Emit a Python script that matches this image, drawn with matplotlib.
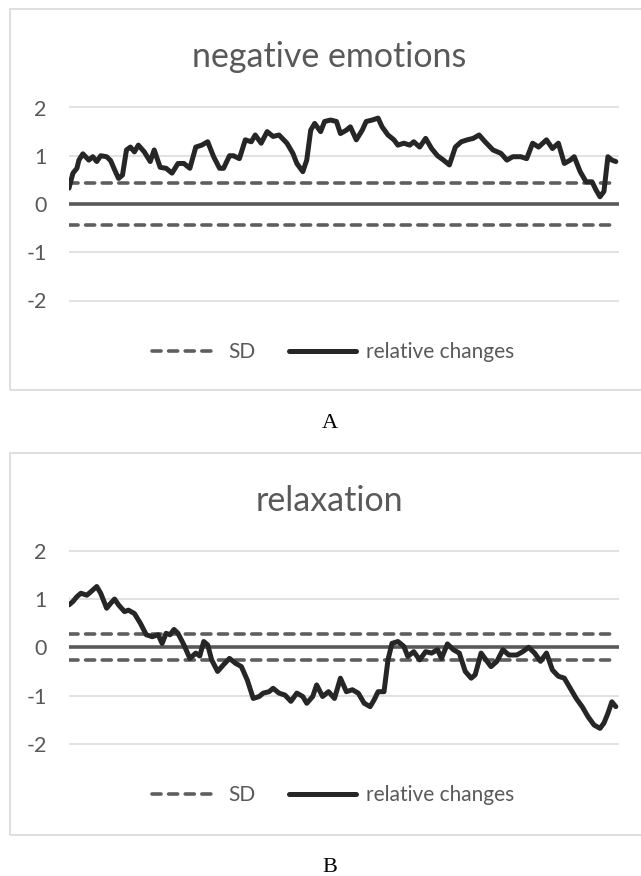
import matplotlib
matplotlib.use("Agg")
import matplotlib.pyplot as plt
from matplotlib.lines import Line2D
from matplotlib.patches import Rectangle

# ---------------- data ----------------
titles = ["negative emotions", "relaxation"]
panel_labels = ["A", "B"]
yticks = [-2, -1, 0, 1, 2]
sd_a = 0.44
sd_b = 0.27

time_a = [0, 10, 20, 25, 35, 50, 60, 70, 80, 95, 105, 115, 125, 135, 145, 155, 165,
          175, 190, 205, 215, 230, 245, 260, 275, 290, 305, 320, 335, 350, 365, 380,
          390, 405, 415, 430, 445, 460, 470, 485, 500, 515, 530, 550, 565, 575, 590,
          600, 610, 620, 635, 645, 660, 675, 685, 700, 710, 725, 740, 750, 765, 780,
          790, 805, 820, 830, 845, 860, 870, 885, 900, 915, 930, 945, 960, 975, 990,
          1005, 1020, 1035, 1050, 1070, 1090, 1105, 1120, 1140, 1155, 1170, 1185,
          1205, 1220, 1235, 1250, 1265, 1275, 1290, 1305, 1320, 1330, 1340, 1350,
          1360, 1370, 1380]
vals_a = [0.33, 0.64, 0.74, 0.91, 1.04, 0.91, 0.98, 0.88, 1.0, 0.98, 0.9, 0.71, 0.53,
          0.6, 1.12, 1.18, 1.08, 1.22, 1.08, 0.88, 1.12, 0.76, 0.74, 0.64, 0.84, 0.84,
          0.74, 1.18, 1.22, 1.29, 0.98, 0.74, 0.74, 1.0, 1.0, 0.94, 1.33, 1.29, 1.43,
          1.26, 1.5, 1.4, 1.43, 1.26, 1.05, 0.84, 0.67, 0.91, 1.53, 1.67, 1.5, 1.71,
          1.74, 1.71, 1.46, 1.53, 1.6, 1.33, 1.53, 1.71, 1.74, 1.78, 1.6, 1.43, 1.33,
          1.22, 1.26, 1.22, 1.29, 1.18, 1.36, 1.15, 1.0, 0.91, 0.81, 1.18, 1.29, 1.33,
          1.36, 1.43, 1.29, 1.12, 1.05, 0.91, 0.98, 0.98, 0.94, 1.26, 1.18, 1.33, 1.15,
          1.26, 0.84, 0.91, 0.98, 0.67, 0.46, 0.46, 0.29, 0.15, 0.26, 0.98, 0.91, 0.88]

time_b = [0, 10, 20, 30, 45, 55, 70, 80, 95, 105, 115, 125, 140, 150, 165, 180, 195,
          210, 225, 235, 245, 255, 265, 275, 290, 305, 320, 330, 340, 350, 360, 375,
          390, 405, 420, 435, 450, 465, 480, 490, 505, 515, 530, 545, 560, 575, 590,
          600, 615, 625, 640, 655, 670, 685, 700, 715, 730, 745, 760, 770, 780, 795,
          805, 815, 830, 845, 855, 870, 885, 900, 915, 930, 940, 955, 970, 985, 1000,
          1015, 1025, 1040, 1055, 1065, 1080, 1095, 1110, 1130, 1145, 1160, 1175, 1190,
          1205, 1220, 1235, 1250, 1265, 1280, 1295, 1310, 1325, 1340, 1350, 1360,
          1370, 1380]
vals_b = [0.88, 0.95, 1.05, 1.12, 1.08, 1.15, 1.26, 1.12, 0.81, 0.91, 1.0, 0.88, 0.74,
          0.77, 0.7, 0.5, 0.26, 0.22, 0.26, 0.08, 0.29, 0.26, 0.37, 0.29, 0.05, -0.23,
          -0.12, -0.18, 0.12, 0.05, -0.26, -0.5, -0.36, -0.23, -0.33, -0.4, -0.68,
          -1.06, -1.02, -0.95, -0.92, -0.85, -0.95, -0.99, -1.12, -0.95, -1.02, -1.16,
          -1.02, -0.78, -1.02, -0.92, -1.06, -0.64, -0.92, -0.88, -0.95, -1.16, -1.23,
          -1.09, -0.92, -0.92, -0.26, 0.08, 0.12, 0.02, -0.19, -0.09, -0.26, -0.09,
          -0.12, -0.05, -0.23, 0.07, -0.05, -0.12, -0.5, -0.64, -0.57, -0.12, -0.29,
          -0.4, -0.29, -0.05, -0.16, -0.16, -0.09, 0.0, -0.12, -0.29, -0.12, -0.47,
          -0.6, -0.64, -0.85, -1.06, -1.23, -1.44, -1.61, -1.68, -1.57, -1.37, -1.13,
          -1.23]

series = [(time_a, vals_a, sd_a), (time_b, vals_b, sd_b)]

# ---------------- style / layout ----------------
W, H = 641, 876
DPI = 100
GRAY = "#595959"
SD_GRAY = "#5e5e5e"
GRID = "#d9d9d9"
LINE = "#262626"
FONT = "Lato"

fig = plt.figure(figsize=(W / DPI, H / DPI), dpi=DPI)
fig.patch.set_facecolor("white")

px_per_unit = 48.25
zero_px = [204.0, 647.3]       # pixel row of y=0 in each panel
frame_px = [(9, 390), (453, 835)]
title_px = [57, 501]
legend_px = [352, 795]
label_px = [423, 867]
x_left, x_right = 69, 619
ylo, yhi = -2.5, 2.2

SD_LW = 2.6
SD_DASH = (2.5, 2.1)
MAIN_LW = 3.6

for i, (t, v, sd) in enumerate(series):
    top_px = zero_px[i] - px_per_unit * yhi
    bot_px = zero_px[i] - px_per_unit * ylo
    ax = fig.add_axes([x_left / W, 1 - bot_px / H, (x_right - x_left) / W,
                       (bot_px - top_px) / H])
    ax.set_facecolor("none")
    ax.set_ylim(ylo, yhi)
    ax.set_xlim(t[0], t[-1] + 8)
    for s in ax.spines.values():
        s.set_visible(False)
    ax.set_xticks([])
    ax.set_yticks(yticks)
    ax.set_yticklabels([str(k) for k in yticks])
    ax.tick_params(axis="y", length=0, pad=16, labelsize=15.5, labelcolor=GRAY)
    for lab in ax.get_yticklabels():
        lab.set_fontfamily(FONT)
    for k in yticks:
        if k != 0:
            ax.axhline(k, color=GRID, lw=1.1, zorder=1)
    ax.axhline(0, color=GRAY, lw=2.6, zorder=2, xmax=1.004)
    ax.plot([t[0], t[-1]], [sd, sd], color=SD_GRAY, lw=SD_LW, dashes=SD_DASH,
            dash_capstyle="round", zorder=3)
    ax.plot([t[0], t[-1]], [-sd, -sd], color=SD_GRAY, lw=SD_LW, dashes=SD_DASH,
            dash_capstyle="round", zorder=3)
    ax.plot(t, v, color=LINE, lw=MAIN_LW, solid_joinstyle="round",
            solid_capstyle="round", zorder=4)

    # frame
    y0, y1 = frame_px[i]
    fig.patches.append(Rectangle((10 / W, 1 - y1 / H), (W + 10) / W, (y1 - y0) / H,
                                 transform=fig.transFigure, fill=False,
                                 edgecolor=GRID, lw=1.2, zorder=0))
    fig.text(329 / W, 1 - title_px[i] / H, titles[i], ha="center", va="center",
             fontsize=24.5, color=GRAY, fontfamily=FONT, fontweight="normal")

    handles = [Line2D([], [], color=SD_GRAY, lw=SD_LW, dashes=SD_DASH,
                      dash_capstyle="round"),
               Line2D([], [], color=LINE, lw=MAIN_LW, solid_capstyle="round")]
    leg = fig.legend(handles, ["SD", "relative changes"], ncol=2, frameon=False,
                     loc="center", bbox_to_anchor=(333 / W, 1 - legend_px[i] / H),
                     prop={"family": FONT, "size": 15}, handlelength=3.2,
                     handletextpad=0.5, columnspacing=1.6)
    for txt in leg.get_texts():
        txt.set_color(GRAY)

    fig.text(330 / W, 1 - label_px[i] / H, panel_labels[i], ha="center",
             va="center", fontsize=16, color="black", fontfamily="Liberation Serif")

fig.savefig("out.png", dpi=DPI, facecolor="white")
